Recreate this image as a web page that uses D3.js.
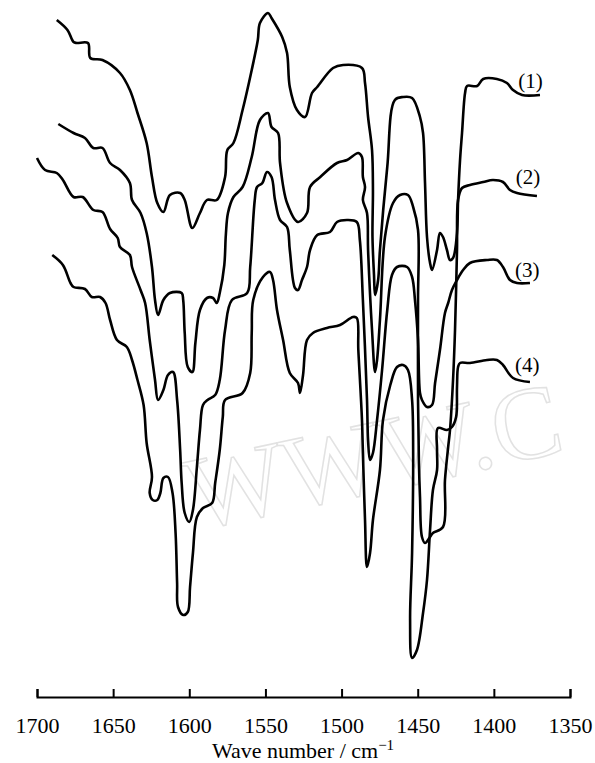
<!DOCTYPE html>
<html>
<head>
<meta charset="utf-8">
<script src="https://cdn.jsdelivr.net/npm/d3@7"></script>
<style>
  body { margin: 0; background: #fff; }
  svg text { font-family: "Liberation Serif", "DejaVu Serif", serif; }
</style>
</head>
<body>
<div id="main"></div>
<script>
const WIDTH = 595;
const HEIGHT = 763;

// x axis (wavenumber, cm-1)
const X_DOMAIN = [1700, 1350];
const X_TICKS = [1700, 1650, 1600, 1550, 1500, 1450, 1400, 1350];
const X_TITLE = 'Wave number / cm';

// offset transmittance, arbitrary units
const Y_DOMAIN = [0, 700];

/**
 * Spectra, [wavenumber, transmittance (a.u., stacked)]
 */
const spectrum1 = [
  [1687, 680], [1680, 670], [1676, 658], [1674, 657], [1666.5, 657], [1665, 642], [1657, 640],
  [1645.5, 627], [1639, 610], [1634, 587], [1628, 557], [1624.5, 523], [1621, 497], [1617, 488],
  [1612.7, 505], [1606, 507], [1603, 500], [1598, 472], [1593, 487], [1588.4, 500], [1582, 500],
  [1576.5, 523], [1575, 550], [1571, 557], [1565, 590], [1559, 630], [1555, 660], [1553.6, 677],
  [1548.3, 687], [1546, 682], [1539, 663], [1535.8, 647], [1534, 613], [1529.3, 590], [1524, 583],
  [1519.4, 607], [1516, 613], [1505.6, 632], [1499, 635], [1486.6, 632], [1484.6, 617],
  [1482.6, 583], [1480, 550], [1479.4, 510], [1479.7, 463], [1478.7, 425], [1478, 405],
  [1476, 420], [1474.8, 450], [1470, 533], [1465, 600], [1459.6, 603], [1453.7, 602],
  [1448.5, 583], [1446.5, 567], [1445.2, 517], [1443.9, 463], [1441.9, 437], [1440.6, 430],
  [1437.3, 450], [1435.4, 467], [1433.4, 463], [1430.8, 450], [1428.8, 440], [1426.8, 442],
  [1424.2, 467], [1423.5, 500], [1422.2, 540], [1420.9, 567], [1418.9, 607], [1417.6, 614],
  [1411, 614], [1407, 621], [1398, 621], [1391.4, 617], [1387.4, 610], [1381.5, 605], [1369.7, 605]
];

const spectrum2 = [
  [1686, 576], [1676, 567], [1668.5, 562], [1663, 552], [1657, 552], [1652, 537], [1645.5, 530],
  [1639, 517], [1637.6, 500], [1632, 487], [1628, 467], [1624.5, 433], [1622.5, 400], [1620.5, 385],
  [1617, 400], [1612.7, 407], [1605, 407], [1604, 400], [1603, 367], [1601, 333], [1598, 328],
  [1596, 357], [1593, 390], [1588.4, 402], [1584.4, 402], [1582, 397], [1580, 407], [1577, 435],
  [1576, 465], [1574.6, 487], [1571, 503], [1565, 513], [1559, 543], [1553.6, 580], [1548.3, 587],
  [1546, 573], [1541.7, 567], [1540.4, 537], [1535.8, 497], [1528.6, 478], [1522.7, 487],
  [1520.7, 513], [1514, 523], [1503, 537], [1496.4, 540], [1489, 547], [1486.6, 543], [1486, 523],
  [1484.6, 513], [1486, 500], [1483.3, 487], [1482.6, 450], [1480, 370], [1478, 328], [1476.7, 340],
  [1474.8, 380], [1471.5, 463], [1466.2, 497], [1461.6, 505], [1456.4, 505], [1453, 493],
  [1449.8, 470], [1449.8, 400], [1449.8, 300], [1449.2, 237], [1448.5, 203], [1447.2, 163],
  [1445.2, 157], [1441.9, 163], [1440, 167], [1433.4, 173], [1432.1, 220], [1430, 253],
  [1428.8, 270], [1426.8, 320], [1425.5, 370], [1424.2, 450], [1423.5, 500], [1420.9, 512],
  [1415.7, 515], [1407, 518], [1400.6, 520], [1394, 518], [1389.4, 510], [1384.8, 507], [1371.7, 504]
];

const spectrum3 = [
  [1700, 542], [1694.7, 530], [1687, 527], [1683, 520], [1676, 503], [1670, 503], [1663, 490],
  [1657, 488], [1652, 471], [1647, 462], [1645.5, 453], [1639, 445], [1637.6, 433], [1632, 410],
  [1629, 397], [1626, 360], [1622.5, 320], [1620.5, 300], [1617, 310], [1614, 325], [1610.7, 328],
  [1608, 300], [1606, 250], [1605, 217], [1603, 187], [1600, 178], [1597.6, 190], [1595, 233],
  [1593, 270], [1591, 295], [1588, 300], [1583, 305], [1580, 320], [1576.5, 370], [1572, 400],
  [1562, 407], [1560, 433], [1557, 500], [1555.5, 513], [1552, 517], [1549, 528], [1546, 523],
  [1543.7, 500], [1540.4, 480], [1535.8, 473], [1534, 450], [1530.6, 412], [1528.6, 410],
  [1526, 420], [1522.7, 433], [1520.7, 450], [1516, 465], [1507.6, 468], [1503, 478],
  [1496.4, 480], [1490, 478], [1488, 460], [1486, 400], [1483.3, 300], [1482.6, 260],
  [1481.3, 240], [1479.4, 247], [1476.7, 280], [1473.4, 330], [1470, 390], [1466.9, 425],
  [1463.6, 433], [1457, 433], [1453.7, 423], [1451.8, 400], [1449.8, 360], [1448.5, 307],
  [1447.2, 300], [1443.9, 293], [1440.6, 295], [1438.6, 317], [1435.4, 350], [1432.1, 387],
  [1430, 397], [1427.5, 410], [1424.2, 420], [1420.2, 430], [1415.7, 437], [1404.5, 440],
  [1398, 440], [1394, 433], [1389.4, 420], [1384.8, 417], [1376.3, 417]
];

const spectrum4 = [
  [1690, 445], [1683, 435], [1678, 417], [1676, 413], [1668.5, 411], [1664, 403], [1658.6, 403],
  [1655, 397], [1652, 380], [1647.5, 360], [1641, 353], [1637.6, 340], [1634, 320], [1630, 295],
  [1628, 257], [1624.5, 223], [1626, 207], [1624, 200], [1621, 200], [1619, 207], [1617, 222],
  [1614, 223], [1611, 207], [1609, 167], [1608, 117], [1607.4, 93], [1604, 85], [1601, 88],
  [1599.5, 113], [1597.6, 147], [1595, 183], [1591, 192], [1585, 197], [1583, 217], [1580, 250],
  [1578, 283], [1576.5, 300], [1565, 307], [1560, 327], [1559, 367], [1558, 400], [1551.6, 423],
  [1547, 428], [1545, 420], [1542.4, 390], [1538.4, 360], [1534, 327], [1528.6, 317],
  [1527.3, 307], [1525.3, 325], [1522.7, 360], [1518.8, 367], [1509.6, 372], [1501, 375],
  [1492.5, 383], [1490, 382], [1489, 350], [1486.6, 280], [1486, 247], [1484.6, 180],
  [1483.3, 133], [1481.3, 147], [1479.4, 180], [1474.8, 230], [1472.8, 280], [1468, 315],
  [1463.6, 333], [1459.6, 335], [1456.4, 330], [1453.7, 300], [1453, 250], [1453.7, 147],
  [1455, 80], [1453.7, 42], [1450.5, 50], [1446.5, 87], [1443.9, 120], [1441.9, 170],
  [1440, 210], [1437.3, 230], [1437.3, 250], [1436.7, 272], [1430.8, 270], [1427.5, 273],
  [1424.8, 283], [1424.2, 313], [1423.5, 333], [1422.2, 337], [1415.7, 337], [1404.5, 340],
  [1398, 340], [1394, 335], [1387.4, 322], [1376.3, 318]
];

const SPECTRA = [spectrum1, spectrum2, spectrum3, spectrum4];

// curve labels, anchored in data units
const LABELS = ['(1)', '(2)', '(3)', '(4)'];
const LABEL_POS = [[1376, 619], [1377.5, 523], [1378, 430], [1378, 335]];

/**
 * Scales
 */
const x = d3.scaleLinear().domain(X_DOMAIN).range([37, 570]);
const y = d3.scaleLinear().domain(Y_DOMAIN).range([700, 0]);

const svg = d3.select('#main')
  .append('svg')
  .attr('width', WIDTH)
  .attr('height', HEIGHT)
  .attr('viewBox', [0, 0, WIDTH, HEIGHT]);

// faint watermark behind the plot
svg.append('text')
  .attr('transform', 'translate(195,530) rotate(-12)')
  .attr('font-size', 104)
  .attr('fill', 'none')
  .attr('stroke', '#e2e2e2')
  .attr('stroke-width', 1.5)
  .text('WWW.C');

// x axis, ticks pointing up
const xAxis = svg.append('g')
  .attr('transform', 'translate(0,697)')
  .call(d3.axisBottom(x).tickValues(X_TICKS).tickSizeInner(-8).tickSizeOuter(-8).tickPadding(20).tickFormat(d3.format('d')));

xAxis.select('.domain').attr('stroke', '#000').attr('stroke-width', 2);
xAxis.selectAll('.tick line').attr('stroke', '#000').attr('stroke-width', 2);
xAxis.selectAll('.tick text')
  .attr('font-size', 22)
  .attr('font-family', '"Liberation Serif", serif')
  .attr('fill', '#000');

const title = svg.append('text')
  .attr('x', 303)
  .attr('y', 758)
  .attr('text-anchor', 'middle')
  .attr('font-size', 22)
  .attr('fill', '#000');
title.append('tspan').text(X_TITLE);
title.append('tspan').attr('dy', -8).attr('font-size', 15).text('\u22121');

// spectra
const line = d3.line()
  .x(d => x(d[0]))
  .y(d => y(d[1]))
  .curve(d3.curveCatmullRom.alpha(0.5));

svg.selectAll('.spectrum')
  .data(SPECTRA)
  .enter()
  .append('path')
  .attr('class', 'spectrum')
  .attr('d', line)
  .attr('fill', 'none')
  .attr('stroke', '#000')
  .attr('stroke-width', 2.6)
  .attr('stroke-linejoin', 'round');

svg.selectAll('.label')
  .data(LABELS)
  .enter()
  .append('text')
  .attr('class', 'label')
  .attr('x', (d, i) => x(LABEL_POS[i][0]))
  .attr('y', (d, i) => y(LABEL_POS[i][1]))
  .attr('dy', '0.35em')
  .attr('text-anchor', 'middle')
  .attr('font-size', 21)
  .attr('fill', '#000')
  .text(d => d);
</script>
</body>
</html>
